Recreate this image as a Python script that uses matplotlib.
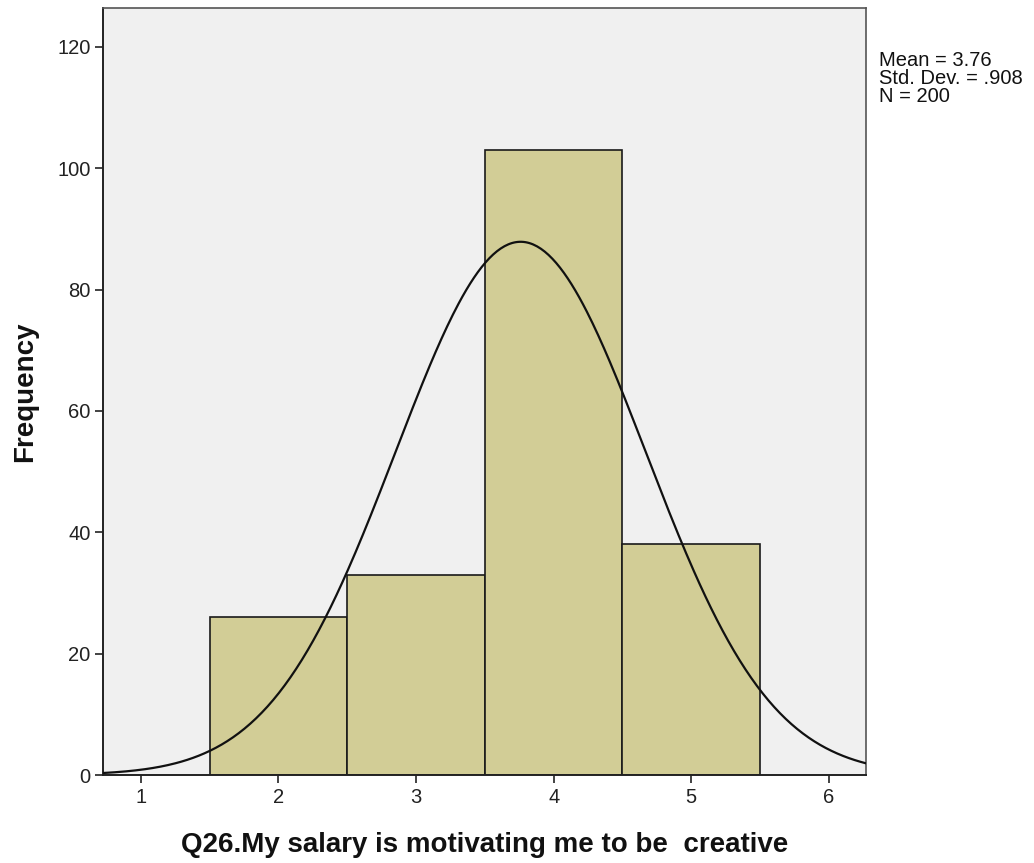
import numpy as np
import matplotlib
matplotlib.use("Agg")
import matplotlib.pyplot as plt

plt.rcParams["font.family"] = ["Liberation Sans", "DejaVu Sans"]

# Histogram of responses (bin centres and counts)
bin_centers = [2, 3, 4, 5]
counts = [26, 33, 103, 38]
mean_val = 3.76
std_val = 0.908
n_total = 200
x_ticks = [1, 2, 3, 4, 5, 6]
y_ticks = [0, 20, 40, 60, 80, 100, 120]
x_label = "Q26.My salary is motivating me to be  creative"
y_label = "Frequency"

W, H = 1034, 863
fig = plt.figure(figsize=(W / 100, H / 100), dpi=100)
ax = fig.add_axes([103 / W, 1 - 775 / H, (866 - 103) / W, (775 - 8) / H])
ax.set_facecolor("#F0F0F0")

ax.bar(bin_centers, counts, width=1.0, color="#D2CD96", edgecolor="#1a1a1a",
       linewidth=1.2, zorder=2)

# Fitted normal curve scaled to the counts (bin width 1)
xs = np.linspace(0.725, 6.27, 400)
ys = n_total * 1.0 / (std_val * np.sqrt(2 * np.pi)) * np.exp(-0.5 * ((xs - mean_val) / std_val) ** 2)
ax.plot(xs, ys, color="#111111", linewidth=1.6, zorder=3)

ax.set_xlim(0.725, 6.27)
ax.set_ylim(0, 126.4)
ax.set_xticks(x_ticks)
ax.set_yticks(y_ticks)
ax.tick_params(axis="both", direction="out", length=6, width=1.2, color="#222222",
               labelsize=14.5, labelcolor="#222222", pad=3)
for side in ["left", "bottom"]:
    ax.spines[side].set_color("#222222")
    ax.spines[side].set_linewidth(1.4)
for side in ["top", "right"]:
    ax.spines[side].set_color("#555555")
    ax.spines[side].set_linewidth(1.2)

ax.set_xlabel(x_label, fontsize=20, fontweight="bold", labelpad=18, color="#111111")
ax.set_ylabel(y_label, fontsize=20, fontweight="bold", labelpad=14, color="#111111")

fig.text(879 / W, 1 - 51 / H,
         f"Mean = {mean_val:.2f}\nStd. Dev. = {str(std_val)[1:]}\nN = {n_total}",
         fontsize=14.5, va="top", ha="left", color="#111111", linespacing=0.92)

fig.savefig("out.png", dpi=100, facecolor="white")
